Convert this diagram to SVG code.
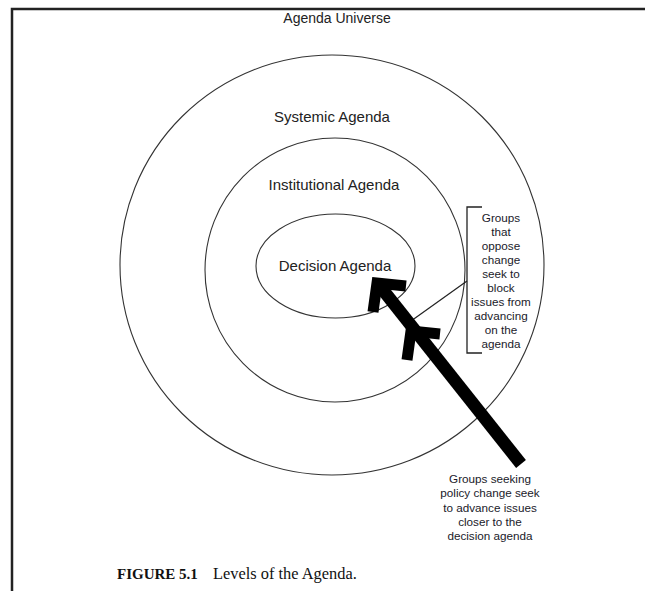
<svg xmlns="http://www.w3.org/2000/svg" width="645" height="591" viewBox="0 0 645 591">
<style>
.ring{fill:none;stroke:#333;stroke-width:1.1}
.lbl{font-family:"Liberation Sans",Arial,sans-serif;fill:#222;text-anchor:middle}
.note{font-family:"Liberation Sans",Arial,sans-serif;fill:#1a1a2a;font-size:11.7px;text-anchor:middle}
.cap{font-family:"Liberation Serif","Times New Roman",serif;fill:#111}
.head{fill:none;stroke:#000;stroke-width:11;stroke-linejoin:miter;stroke-linecap:butt}
</style>
<rect x="0" y="0" width="645" height="591" fill="#fff"/>
<g id="frame">
<path d="M12,591 V9 H645" fill="none" stroke="#222" stroke-width="2.5"/>
</g>
<g id="universe">
<text class="lbl" x="337" y="23" font-size="14">Agenda Universe</text>
</g>
<g id="systemic">
<ellipse class="ring" cx="332" cy="265" rx="212" ry="210"/>
<text class="lbl" x="332" y="122" font-size="15">Systemic Agenda</text>
</g>
<g id="institutional">
<ellipse class="ring" cx="335" cy="270" rx="130" ry="132"/>
<text class="lbl" x="334" y="190" font-size="15">Institutional Agenda</text>
</g>
<g id="decision">
<ellipse class="ring" cx="335.5" cy="266" rx="79.5" ry="52"/>
<text class="lbl" x="335" y="271" font-size="15">Decision Agenda</text>
</g>
<g id="oppose-note">
<path d="M482,207 H467 V353 H482" fill="none" stroke="#222" stroke-width="1.3"/>
<text class="note" x="501" y="222">Groups</text>
<text class="note" x="501" y="236">that</text>
<text class="note" x="501" y="250">oppose</text>
<text class="note" x="501" y="264">change</text>
<text class="note" x="501" y="278">seek to</text>
<text class="note" x="501" y="292">block</text>
<text class="note" x="501" y="306">issues from</text>
<text class="note" x="501" y="320">advancing</text>
<text class="note" x="501" y="334">on the</text>
<text class="note" x="501" y="348">agenda</text>
</g>
<g id="seek-note">
<text class="note" x="490" y="483">Groups seeking</text>
<text class="note" x="490" y="497">policy change seek</text>
<text class="note" x="490" y="511.5">to advance issues</text>
<text class="note" x="490" y="526">closer to the</text>
<text class="note" x="490" y="540">decision agenda</text>
</g>
<g id="connectors">
<line x1="467" y1="281" x2="411" y2="321" stroke="#222" stroke-width="1.2"/>
<line x1="521" y1="464" x2="379" y2="285" stroke="#000" stroke-width="12.5"/>
<polyline class="head" points="406,286 377,283 373,312"/>
<polyline class="head" points="440,334 411,331 407,360"/>
</g>
<g id="caption">
<text class="cap" x="117" y="579" font-size="15" font-weight="bold">FIGURE 5.1</text>
<text class="cap" x="213" y="579" font-size="16.4">Levels of the Agenda.</text>
</g>
</svg>
